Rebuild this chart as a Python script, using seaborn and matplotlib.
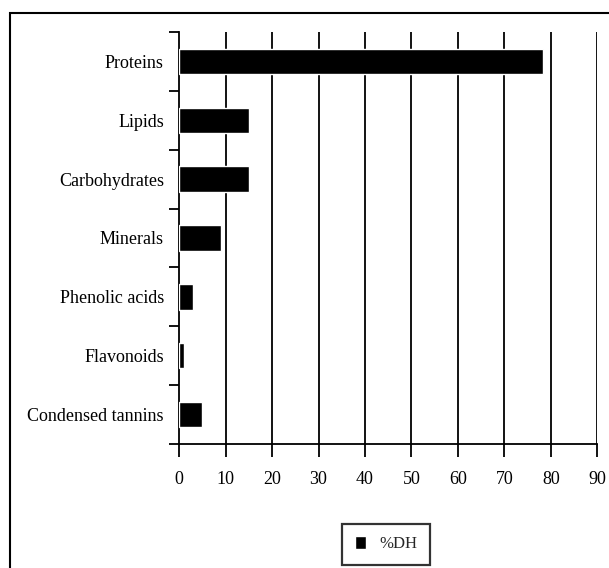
import matplotlib
matplotlib.use("Agg")
import matplotlib.pyplot as plt
from matplotlib.patches import Rectangle
from matplotlib.ticker import FixedLocator
import seaborn as sns
import pandas as pd

components = ["Proteins", "Lipids", "Carbohydrates", "Minerals",
              "Phenolic acids", "Flavonoids", "Condensed tannins"]
dh_values = [78.2, 15, 15, 9, 3, 1, 5]
x_ticks = [0, 10, 20, 30, 40, 50, 60, 70, 80, 90]
series_name = "%DH"

df = pd.DataFrame({"component": components, "value": dh_values})

sns.set_theme(style="white")
plt.rcParams["font.family"] = ["Liberation Serif", "DejaVu Serif"]

fig = plt.figure(figsize=(6.09, 5.68), dpi=100)
ax = fig.add_axes([0.294, 0.218, 0.687, 0.726])

sns.barplot(data=df, x="value", y="component", orient="h", color="black",
            width=0.43, ax=ax, saturation=1, legend=False, zorder=3)

ax.set_xlim(0, 90)
ax.set_ylim(6.5, -0.5)
ax.set_xticks(x_ticks)
ax.set_xticklabels([str(t) for t in x_ticks])
ax.set_xlabel("")
ax.set_ylabel("")

# vertical gridlines at each major x tick
for t in x_ticks[1:]:
    ax.axvline(t, color="black", lw=1.3, zorder=1)

for s in ["top", "right"]:
    ax.spines[s].set_visible(False)
for s in ["left", "bottom"]:
    ax.spines[s].set_color("black")
    ax.spines[s].set_linewidth(1.3)

# category ticks sit between the bars
ax.yaxis.set_minor_locator(FixedLocator([i - 0.5 for i in range(len(components) + 1)]))
ax.tick_params(axis="y", which="major", length=0, pad=11, labelsize=13, colors="black")
ax.tick_params(axis="y", which="minor", length=7, width=1.3, color="black", left=True)
ax.tick_params(axis="x", which="major", length=9, width=1.3, color="black",
               bottom=True, pad=10, labelsize=13, labelcolor="black")

handle = Rectangle((0, 0), 1, 1, facecolor="black")
leg = fig.legend(handles=[handle], labels=[series_name], loc="center",
                 bbox_to_anchor=(0.634, 0.042), frameon=True, fancybox=False,
                 edgecolor="black", handlelength=0.7, handleheight=0.8,
                 handletextpad=0.8, fontsize=12, borderpad=0.75,
                 borderaxespad=0)
leg.get_frame().set_linewidth(1.6)

# outer chart border
fig.patches.append(Rectangle((10 / 609, -0.01), 1.0, 1 - 13 / 568 + 0.01,
                             transform=fig.transFigure, fill=False,
                             edgecolor="black", lw=1.5))

fig.savefig("out.png", dpi=100)
